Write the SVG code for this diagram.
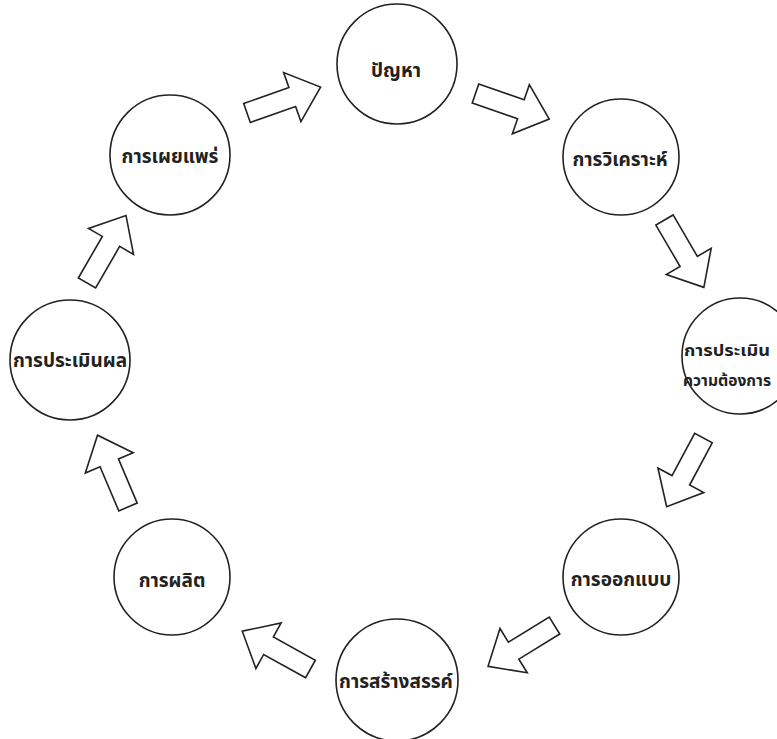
<svg xmlns="http://www.w3.org/2000/svg" width="777" height="739" viewBox="0 0 777 739">
<style>
.n circle{fill:#fff;stroke:#222;stroke-width:1.6}
.n text{font-family:"Noto Sans Thai","Noto Sans","DejaVu Sans",sans-serif;font-size:19px;font-weight:bold;fill:#222;text-anchor:middle}
.n text.s{font-size:16px;text-anchor:start}
.c use{fill:#fff;stroke:#222;stroke-width:1.6;stroke-linejoin:miter}
</style>
<defs>
<polygon id="arr" points="0,-10 48,-10 48,-26 78,0 48,26 48,10 0,10"/>
</defs>
<rect width="777" height="739" fill="#fff"/>
<g id="connectors" class="c">
<use href="#arr" transform="translate(247,113) rotate(-19.4)"/>
<use href="#arr" transform="translate(475.5,93.5) rotate(19.1)"/>
<use href="#arr" transform="translate(664.5,220) rotate(59.7)"/>
<use href="#arr" transform="translate(703.5,438) rotate(118.2)"/>
<use href="#arr" transform="translate(554.5,625.5) rotate(148.4)"/>
<use href="#arr" transform="translate(310.5,669) rotate(209)"/>
<use href="#arr" transform="translate(128,507) rotate(-113)"/>
<use href="#arr" transform="translate(87,283) rotate(-60)"/>
</g>
<g id="n1" class="n"><circle cx="397" cy="64" r="60"/><text x="396" y="77">ปัญหา</text></g>
<g id="n2" class="n"><circle cx="621" cy="157" r="58"/><text x="620" y="166">การวิเคราะห์</text></g>
<g id="n3" class="n"><circle cx="740" cy="356" r="58"/><text class="s" x="684" y="356" textLength="86" lengthAdjust="spacingAndGlyphs">การประเมิน</text><text class="s" x="683" y="386" textLength="88" lengthAdjust="spacingAndGlyphs">ความต้องการ</text></g>
<g id="n4" class="n"><circle cx="621" cy="577" r="58"/><text x="621" y="586">การออกแบบ</text></g>
<g id="n5" class="n"><circle cx="397" cy="680" r="61"/><text x="396" y="688">การสร้างสรรค์</text></g>
<g id="n6" class="n"><circle cx="172" cy="577" r="58"/><text x="172" y="587">การผลิต</text></g>
<g id="n7" class="n"><circle cx="70" cy="360" r="60"/><text x="70" y="367">การประเมินผล</text></g>
<g id="n8" class="n"><circle cx="170" cy="155" r="60"/><text x="170" y="163">การเผยแพร่</text></g>
</svg>
